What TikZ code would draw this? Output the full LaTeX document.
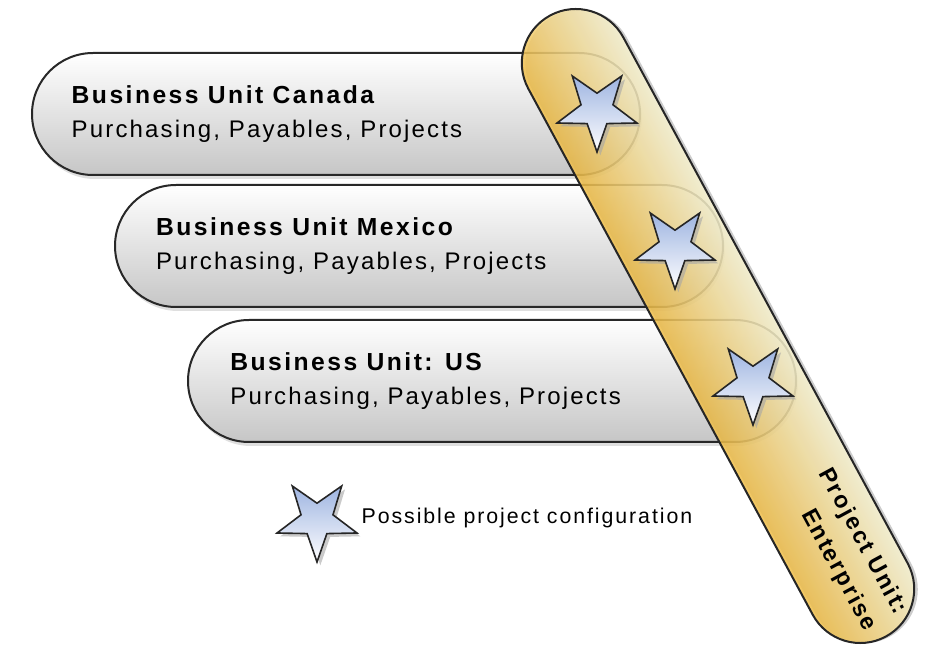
\documentclass[tikz,border=0pt]{standalone}
\usepackage{fontspec}
\setmainfont{Liberation Sans}
\newfontfamily\widefont[LetterSpace=9]{Liberation Sans}
\newfontfamily\titlefont[LetterSpace=10]{Liberation Sans}
\usetikzlibrary{shapes.geometric,shapes.misc,shadows}
\usetikzlibrary{positioning}

\definecolor{pillline}{RGB}{40,40,40}
\definecolor{pillbot}{RGB}{198,198,198}
\definecolor{bandlo}{RGB}{238,188,70}
\definecolor{bandhi}{RGB}{247,243,210}
\definecolor{starhi}{RGB}{158,180,225}

\tikzset{
  unit/.style={rounded rectangle, draw=pillline, line width=1.5pt, top color=white, bottom color=pillbot,
    minimum width=456pt, minimum height=91.5pt, inner sep=0pt,
    drop shadow={shadow xshift=1.5pt, shadow yshift=-3pt, opacity=.25}},
  unittext/.style={anchor=west, align=left, font=\widefont\fontsize{18}{26}\selectfont},
  band/.style={draw=black!85, line width=1.5pt, fill opacity=.85, rounded corners=40.5pt,
    top color=bandhi, bottom color=bandlo},
  bandtext/.style={align=right, font=\widefont\bfseries\fontsize{17.5}{26}\selectfont},
  pstar/.style={star, star points=5, star point ratio=2.5, shape border rotate=180,
    minimum size=63pt, inner sep=0pt, draw=black!85, line width=1.2pt, top color=starhi, bottom color=white,
    drop shadow={shadow xshift=2.5pt, shadow yshift=-2.5pt, fill=gray!70, opacity=.6}},
  legendtext/.style={anchor=west, font=\widefont\fontsize{16}{20}\selectfont}
}

\begin{document}
\begin{tikzpicture}[x=0.75pt,y=0.75pt,yscale=-1]
\useasboundingbox (0,0) rectangle (925,648);

% business units
\node[unit] (canada) at (336,114) {};
\node[unit] (mexico) at (419,246) {};
\node[unit] (us) at (492,381) {};

\node[unittext] (canadatext) at ([xshift=27pt]canada.west) {{\titlefont\fontsize{18.5}{26}\selectfont\bfseries Business Unit Canada}\\Purchasing, Payables, Projects};
\node[unittext] (mexicotext) at ([xshift=28pt]mexico.west) {{\titlefont\fontsize{18.5}{26}\selectfont\bfseries Business Unit Mexico}\\Purchasing, Payables, Projects};
\node[unittext] (ustext) at ([xshift=29pt]us.west) {{\titlefont\fontsize{18.5}{26}\selectfont\bfseries Business Unit: US}\\Purchasing, Payables, Projects};

% project unit band (canvas is reset, so y is flipped by hand)
\begin{scope}[transform canvas={shift={(718,-326)}, rotate=-61.6}]
  \fill[black, opacity=.2, rounded corners=40.5pt] (-351,-57) rectangle (355,51);
  \path[band] (-353,-54) rectangle (353,54);
\end{scope}
\node[bandtext, rotate=-61.6] (enterprisetext) at (847,550) {Project Unit:\\Enterprise};

% configurations
\node[pstar] (starcanada) at (597,110) {};
\node[pstar] (starmexico) at (675,247) {};
\node[pstar] (starus) at (753,383) {};

% legend
\node[pstar] (legendstar) at (317,520) {};
\node[legendtext] (legend) at (357,518) {Possible project configuration};

\end{tikzpicture}
\end{document}
